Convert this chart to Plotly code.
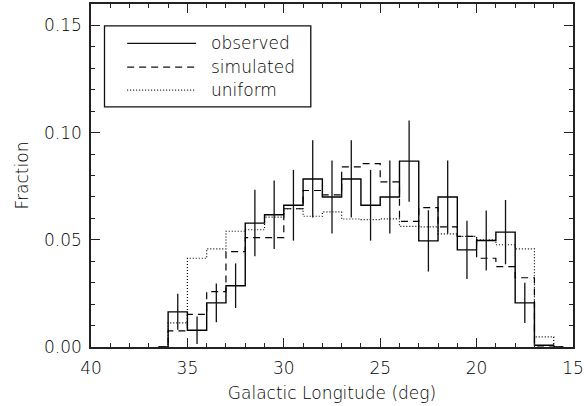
import plotly.graph_objects as go

# Bin centres (deg), histogram drawn IDL psym=10 style (steps at midpoints)
lon = [36.5, 35.5, 34.5, 33.5, 32.5, 31.5, 30.5, 29.5, 28.5, 27.5, 26.5,
       25.5, 24.5, 23.5, 22.5, 21.5, 20.5, 19.5, 18.5, 17.5, 16.5, 15.5]

observed = [0.0, 0.0164, 0.0078, 0.0206, 0.0286, 0.0578, 0.0617, 0.0661, 0.0784,
            0.0700, 0.0784, 0.0661, 0.0700, 0.0867, 0.0495, 0.0700, 0.0453,
            0.0497, 0.0536, 0.0206, 0.0008, 0.0]
simulated = [0.0, 0.0075, 0.0152, 0.0258, 0.0445, 0.0510, 0.0510, 0.0645, 0.0730,
             0.0710, 0.0840, 0.0855, 0.0770, 0.0586, 0.0650, 0.0560, 0.0516,
             0.0414, 0.0375, 0.0323, 0.0005, 0.0]
uniform = [0.0, 0.0113, 0.0414, 0.0458, 0.0540, 0.0547, 0.0606, 0.0645, 0.0610,
           0.0630, 0.0597, 0.0594, 0.0598, 0.0563, 0.0560, 0.0528, 0.0516,
           0.0500, 0.0477, 0.0458, 0.0047, 0.0]

# Observed error bars (at bin centres 35.5 ... 17.5)
err_lon = [35.5, 34.5, 33.5, 32.5, 31.5, 30.5, 29.5, 28.5, 27.5, 26.5,
           25.5, 24.5, 23.5, 22.5, 21.5, 20.5, 19.5, 18.5, 17.5]
err_val = [0.0164, 0.0078, 0.0206, 0.0286, 0.0578, 0.0617, 0.0661, 0.0784, 0.0700,
           0.0784, 0.0661, 0.0700, 0.0867, 0.0495, 0.0700, 0.0453, 0.0497,
           0.0536, 0.0206]
err_sig = [0.0084, 0.0064, 0.0090, 0.0104, 0.0155, 0.0160, 0.0165, 0.0180, 0.0170,
           0.0180, 0.0165, 0.0170, 0.0190, 0.0143, 0.0170, 0.0136, 0.0140,
           0.0150, 0.0094]

x_ticks = [40, 35, 30, 25, 20, 15]
y_ticks = [0.00, 0.05, 0.10, 0.15]
legend_labels = ["observed", "simulated", "uniform"]

INK = "#000000"
FONT = "DejaVu Sans"
FW = 200
FS = 17

fig = go.Figure()
fig.add_trace(go.Scatter(x=lon, y=uniform, mode="lines", line_shape="hvh",
                         line=dict(color=INK, width=1.2, dash="1px,2px"),
                         showlegend=False))
fig.add_trace(go.Scatter(x=lon, y=simulated, mode="lines", line_shape="hvh",
                         line=dict(color=INK, width=1.2, dash="7px,5px"),
                         showlegend=False))
fig.add_trace(go.Scatter(x=lon, y=observed, mode="lines", line_shape="hvh",
                         line=dict(color=INK, width=1.4),
                         showlegend=False))
fig.add_trace(go.Scatter(x=err_lon, y=err_val, mode="markers",
                         marker=dict(size=1, opacity=0),
                         error_y=dict(type="data", array=err_sig, visible=True,
                                      width=0, thickness=1.3, color="#111111"),
                         showlegend=False))

# Legend drawn as a framed box
fig.add_shape(type="rect", xref="paper", yref="paper", x0=0.028, x1=0.456,
              y0=0.700, y1=0.936, line=dict(color="#111111", width=1.3),
              fillcolor="white")
dashes = ["solid", "7px,5px", "1px,2px"]
rows = [0.885, 0.816, 0.749]
for lab, d, ry in zip(legend_labels, dashes, rows):
    fig.add_shape(type="line", xref="paper", yref="paper", x0=0.075, x1=0.218,
                  y0=ry, y1=ry, line=dict(color="#111111", width=1.3, dash=d))
    fig.add_annotation(xref="paper", yref="paper", x=0.245, y=ry, text=lab,
                       showarrow=False, xanchor="left", yanchor="middle",
                       font=dict(family=FONT, size=FS, color=INK, weight=FW))

axis_common = dict(showline=True, linecolor="#222222", linewidth=1.6,
                   mirror="ticks", ticks="inside", ticklen=9, tickwidth=1.3,
                   tickcolor="#222222", showgrid=False, zeroline=False,
                   tickfont=dict(family=FONT, size=FS, color=INK, weight=FW))

fig.update_xaxes(range=[40, 15], tickvals=x_ticks, ticklabelstandoff=5,
                 minor=dict(dtick=1, ticks="inside", ticklen=4, tickwidth=1.1,
                            tickcolor="#222222", showgrid=False),
                 title=dict(text="Galactic Longitude (deg)", standoff=10,
                            font=dict(family=FONT, size=FS, color=INK, weight=FW)),
                 **axis_common)
fig.update_yaxes(range=[0, 0.16], tickvals=y_ticks, tickformat=".2f",
                 ticklabelstandoff=4,
                 minor=dict(dtick=0.01, ticks="inside", ticklen=4, tickwidth=1.1,
                            tickcolor="#222222", showgrid=False),
                 title=dict(text="Fraction", standoff=11,
                            font=dict(family=FONT, size=FS, color=INK, weight=FW)),
                 **axis_common)

fig.update_layout(width=587, height=406, plot_bgcolor="white",
                  paper_bgcolor="white",
                  margin=dict(l=91, r=14, t=4, b=59, autoexpand=False),
                  showlegend=False)

fig.write_html("out.html")
